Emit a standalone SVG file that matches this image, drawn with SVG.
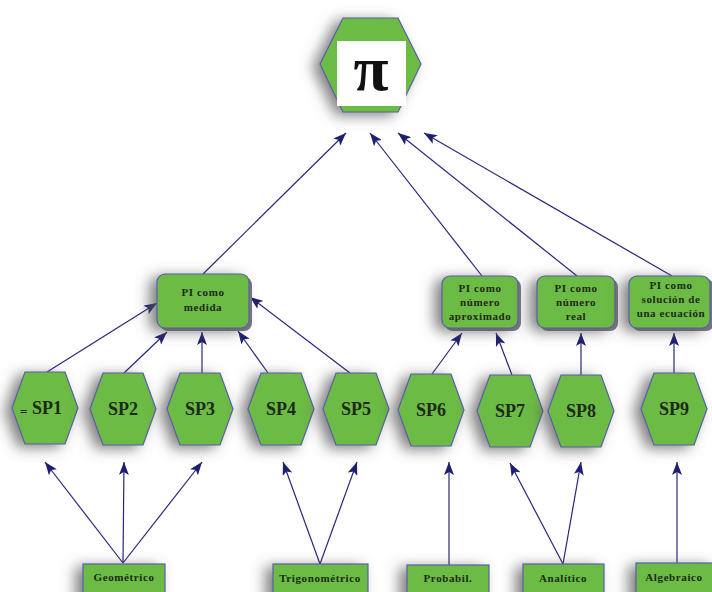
<svg xmlns="http://www.w3.org/2000/svg" width="712" height="592" viewBox="0 0 712 592">
<defs>
<style>
.g{fill:#6cbb45;stroke:#5a5fa8;stroke-width:1.2}
.sh{filter:url(#shadow)}
.lbl{font-family:"Liberation Serif","Times New Roman",serif;font-weight:bold;font-size:18px;fill:#1d2a16;text-anchor:middle}
.bt{font-family:"Liberation Serif","Times New Roman",serif;font-weight:bold;font-size:11px;fill:#1d2a16;text-anchor:middle;letter-spacing:0.6px}
.c line{stroke:#27277a;stroke-width:1.2;marker-end:url(#arr)}
</style>
<filter id="shadow" x="-40%" y="-40%" width="180%" height="180%">
<feGaussianBlur in="SourceAlpha" stdDeviation="7"/>
<feOffset dx="-7" dy="3" result="b"/>
<feFlood flood-color="#555" flood-opacity="0.75"/>
<feComposite in2="b" operator="in" result="s"/>
<feMerge><feMergeNode in="s"/><feMergeNode in="SourceGraphic"/></feMerge>
</filter>
<marker id="arr" markerUnits="userSpaceOnUse" markerWidth="14" markerHeight="10" refX="13" refY="5" orient="auto">
<path d="M0,0 L13,5 L0,10 L3,5 Z" fill="#1f1f70"/>
</marker>
<polygon id="hex" points="-33,0 -20,-36 20,-36 33,0 20,36 -20,36"/>
</defs>
<rect width="712" height="592" fill="#fff"/>

<g id="connectors" class="c">
<line x1="203" y1="274" x2="346" y2="133"/>
<line x1="482" y1="276" x2="370" y2="133"/>
<line x1="577" y1="276" x2="398" y2="133"/>
<line x1="672" y1="276" x2="424" y2="133"/>
<line x1="47" y1="372" x2="157" y2="303"/>
<line x1="124" y1="373" x2="167" y2="332"/>
<line x1="202" y1="373" x2="202" y2="332"/>
<line x1="268" y1="373" x2="238" y2="331"/>
<line x1="350" y1="373" x2="250" y2="297"/>
<line x1="432" y1="374" x2="462" y2="333"/>
<line x1="512" y1="375" x2="496" y2="333"/>
<line x1="581" y1="375" x2="581" y2="333"/>
<line x1="674" y1="373" x2="674" y2="333"/>
<line x1="123" y1="563" x2="45" y2="462"/>
<line x1="123" y1="563" x2="124" y2="462"/>
<line x1="123" y1="563" x2="202" y2="462"/>
<line x1="320" y1="564" x2="283" y2="462"/>
<line x1="320" y1="564" x2="357" y2="462"/>
<line x1="449" y1="565" x2="449" y2="462"/>
<line x1="563" y1="564" x2="510" y2="463"/>
<line x1="563" y1="564" x2="581" y2="462"/>
<line x1="677" y1="563" x2="677" y2="462"/>
</g>

<g id="pi">
<polygon class="g sh" points="320,64 343,18 398,18 421,64 398,112 343,112"/>
<rect x="337" y="41" width="69" height="65" fill="#fff"/>
<text x="371" y="90" font-family="'Liberation Serif','Times New Roman',serif" font-weight="bold" font-size="64" fill="#111" text-anchor="middle">π</text>
</g>

<g id="medida">
<rect x="160" y="277" width="92" height="54" rx="8" fill="#7c7484"/>
<rect class="g sh" x="157" y="274" width="92" height="54" rx="8"/>
<text class="bt" x="203" y="296">PI como</text>
<text class="bt" x="203" y="311">medida</text>
</g>
<g id="aproximado">
<rect x="445" y="279" width="76" height="52" rx="8" fill="#7c7484"/>
<rect class="g sh" x="442" y="276" width="76" height="52" rx="8"/>
<text class="bt" x="480" y="292">PI como</text>
<text class="bt" x="480" y="306">número</text>
<text class="bt" x="480" y="320">aproximado</text>
</g>
<g id="real">
<rect x="540" y="279" width="78" height="52" rx="8" fill="#7c7484"/>
<rect class="g sh" x="537" y="276" width="78" height="52" rx="8"/>
<text class="bt" x="576" y="292">PI como</text>
<text class="bt" x="576" y="306">número</text>
<text class="bt" x="576" y="320">real</text>
</g>
<g id="ecuacion">
<rect x="632" y="279" width="82" height="52" rx="8" fill="#7c7484"/>
<rect class="g sh" x="629" y="276" width="81" height="52" rx="8"/>
<text class="bt" x="671" y="289">PI como</text>
<text class="bt" x="671" y="303">solución de</text>
<text class="bt" x="671" y="317">una ecuación</text>
</g>

<g id="SP1"><use href="#hex" class="g sh" x="45" y="408"/><text class="lbl" x="20" y="416" style="font-size:13px;text-anchor:start">=</text><text class="lbl" x="47" y="414">SP1</text></g>
<g id="SP2"><use href="#hex" class="g sh" x="123" y="409"/><text class="lbl" x="123" y="415">SP2</text></g>
<g id="SP3"><use href="#hex" class="g sh" x="200" y="409"/><text class="lbl" x="200" y="415">SP3</text></g>
<g id="SP4"><use href="#hex" class="g sh" x="281" y="409"/><text class="lbl" x="281" y="415">SP4</text></g>
<g id="SP5"><use href="#hex" class="g sh" x="356" y="409"/><text class="lbl" x="356" y="415">SP5</text></g>
<g id="SP6"><use href="#hex" class="g sh" x="431" y="410"/><text class="lbl" x="431" y="416">SP6</text></g>
<g id="SP7"><use href="#hex" class="g sh" x="510" y="411"/><text class="lbl" x="510" y="417">SP7</text></g>
<g id="SP8"><use href="#hex" class="g sh" x="581" y="411"/><text class="lbl" x="581" y="417">SP8</text></g>
<g id="SP9"><use href="#hex" class="g sh" x="674" y="409"/><text class="lbl" x="674" y="415">SP9</text></g>

<g id="geometrico"><rect class="g sh" x="83" y="564" width="82" height="40"/><text class="bt" x="124" y="581">Geométrico</text></g>
<g id="trigonometrico"><rect class="g sh" x="273" y="564" width="95" height="40"/><text class="bt" x="320" y="582">Trigonométrico</text></g>
<g id="probabil"><rect class="g sh" x="407" y="565" width="82" height="40"/><text class="bt" x="448" y="582">Probabil.</text></g>
<g id="analitico"><rect class="g sh" x="523" y="564" width="81" height="40"/><text class="bt" x="563" y="582">Analítico</text></g>
<g id="algebraico"><rect class="g sh" x="636" y="563" width="80" height="40"/><text class="bt" x="674" y="581">Algebraico</text></g>
</svg>
